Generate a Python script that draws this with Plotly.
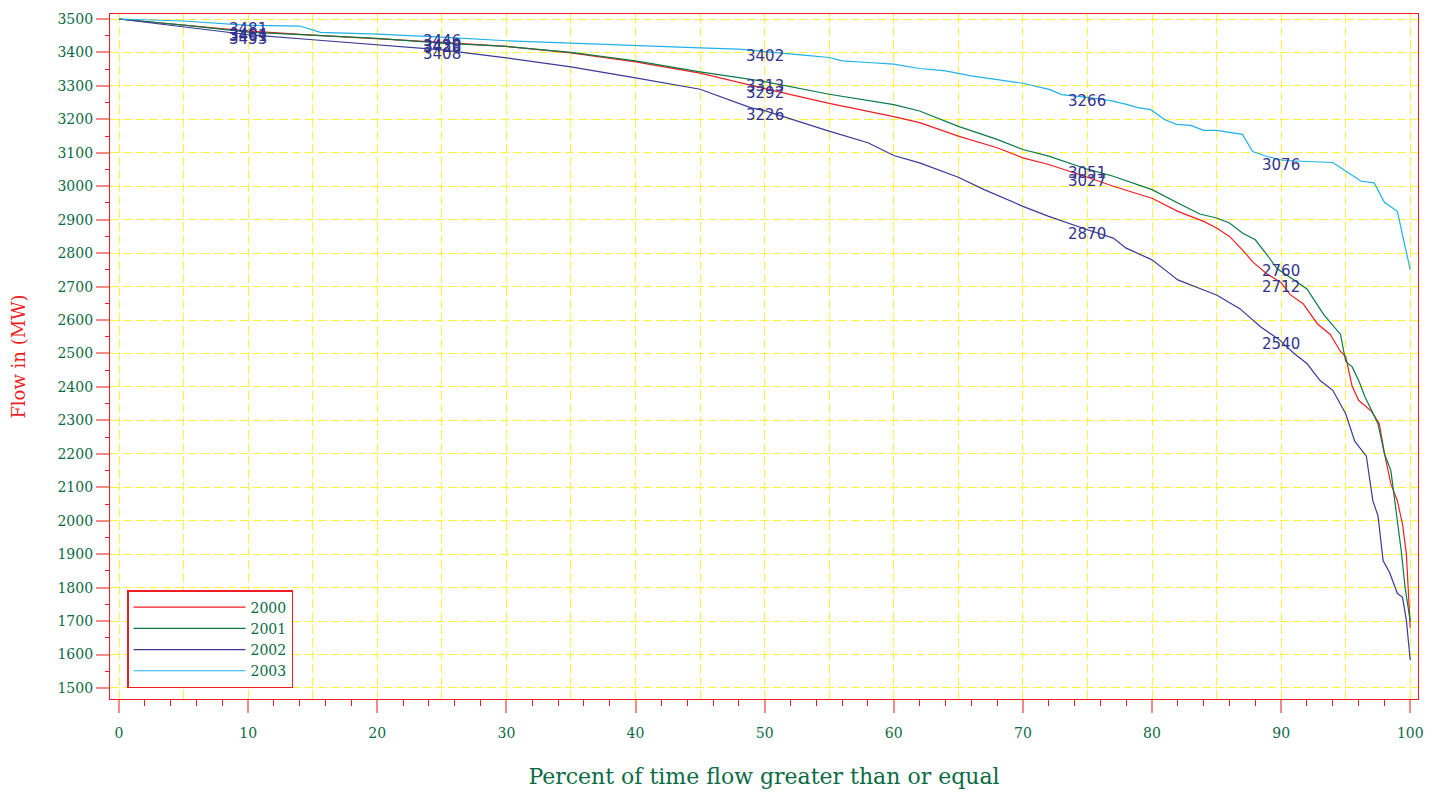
import plotly.graph_objects as go

# ---------------- data ----------------
x_2000 = [0, 5, 10, 15, 20, 25, 30, 35, 40, 45, 50, 55, 60, 62, 65, 68, 70, 72, 75, 77, 80, 82, 84, 85, 86, 87,
          87.8, 88.9, 90, 90.7, 91.7, 92.8, 93.8, 94.6, 95, 95.5, 96, 97, 97.6, 98, 98.5, 99, 99.4, 99.7, 100]
y_2000 = [3500, 3482, 3464, 3452, 3442, 3430, 3418, 3399, 3372, 3338, 3292, 3248, 3208, 3190, 3150, 3115, 3085,
          3065, 3027, 3000, 2964, 2925, 2895, 2875, 2850, 2810, 2774, 2738, 2712, 2676, 2649, 2589, 2557, 2506,
          2491, 2402, 2360, 2327, 2290, 2202, 2110, 2060, 1990, 1900, 1680]

x_2001 = [0, 5, 10, 15, 20, 25, 30, 35, 40, 45, 50, 55, 60, 62, 65, 68, 70, 72, 75, 77, 80, 82, 83.7, 85, 86, 87,
          88, 89, 89.7, 91, 92, 93.3, 94.6, 95, 95.5, 96, 96.5, 97, 97.5, 98, 98.5, 99, 99.3, 99.6, 100]
y_2001 = [3500, 3482, 3461, 3452, 3442, 3428, 3418, 3400, 3375, 3342, 3313, 3275, 3244, 3225, 3179, 3140, 3110,
          3090, 3051, 3030, 2990, 2950, 2917, 2905, 2890, 2860, 2840, 2790, 2753, 2720, 2693, 2616, 2557, 2476,
          2460, 2420, 2370, 2330, 2290, 2200, 2150, 2000, 1911, 1800, 1700]

x_2002 = [0, 5, 10, 15, 20, 25, 30, 35, 40, 45, 48.9, 50, 54.8, 58, 60, 62, 65, 67, 70, 72, 75, 77, 78, 80, 81, 82,
          84, 85, 86.8, 88.4, 89.9, 91, 92, 93, 94, 95, 95.7, 96.6, 97.1, 97.5, 97.9, 98.4, 99, 99.4, 99.7, 100]
y_2002 = [3500, 3476, 3453, 3438, 3422, 3408, 3384, 3357, 3324, 3290, 3235, 3226, 3167, 3130, 3092, 3070, 3027,
          2990, 2940, 2910, 2870, 2845, 2815, 2780, 2750, 2720, 2690, 2675, 2634, 2580, 2540, 2500, 2470, 2420,
          2390, 2320, 2238, 2193, 2060, 2015, 1880, 1845, 1783, 1771, 1702, 1583]

x_2003 = [0, 5, 10, 14, 15.6, 20, 25, 30, 35, 40, 45, 48, 50, 53, 55, 56, 58, 60, 62, 64, 66, 68, 70, 72.1, 73,
          75, 76.8, 78.1, 78.9, 79.9, 81, 81.9, 83, 84, 85, 87, 87.8, 88.9, 90.2, 94, 95.4, 96.2, 97.2, 98, 99, 100]
y_2003 = [3500, 3494, 3481, 3479, 3460, 3455, 3446, 3435, 3428, 3420, 3414, 3410, 3402, 3392, 3385, 3375, 3370,
          3365, 3352, 3345, 3330, 3320, 3308, 3289, 3274, 3266, 3256, 3244, 3235, 3229, 3199, 3185, 3182, 3167,
          3167, 3155, 3104, 3089, 3077, 3071, 3036, 3015, 3010, 2952, 2925, 2750]

label_x = [10, 25, 50, 75, 90]
labels_2000 = [3464, 3430, 3292, 3027, 2712]
labels_2001 = [3461, 3428, 3313, 3051, 2760]
labels_2002 = [3453, 3408, 3226, 2870, 2540]
labels_2003 = [3481, 3446, 3402, 3266, 3076]

x_ticks = list(range(0, 101, 10))
y_ticks = list(range(1500, 3501, 100))

# ---------------- styling ----------------
RED = "#f01e23"
GREEN = "#0a7a45"
BLUE = "#3a3a98"
CYAN = "#1fb2ea"
TICKGREEN = "#0b6b45"
LABELBLUE = "#33338f"
GRID = "#fff23c"
PINK = "#f28a8a"
SERIF = "DejaVu Serif"

series = [
    ("2000", x_2000, y_2000, RED, labels_2000),
    ("2001", x_2001, y_2001, GREEN, labels_2001),
    ("2002", x_2002, y_2002, BLUE, labels_2002),
    ("2003", x_2003, y_2003, CYAN, labels_2003),
]

fig = go.Figure()
for name, xs, ys, col, _ in series:
    fig.add_trace(go.Scatter(x=xs, y=ys, mode="lines", name=name,
                             line=dict(color=col, width=1.2)))

annotations = []
for name, xs, ys, col, labs in series:
    for lx, lv in zip(label_x, labs):
        annotations.append(dict(x=lx, y=lv, xref="x", yref="y", text=str(lv), showarrow=False,
                                xanchor="center", yanchor="middle", yshift=-4,
                                font=dict(family="DejaVu Sans", size=15, color=LABELBLUE)))

xr = [-0.7, 100.6]
yr = [1467, 3515]

fig.update_layout(
    width=1433, height=788, autosize=False,
    margin=dict(l=102, r=23, t=3, b=97),
    paper_bgcolor="white", plot_bgcolor="white",
    showlegend=True,
    legend=dict(x=0.013, y=0.016, xanchor="left", yanchor="bottom",
                bgcolor="white", bordercolor=RED, borderwidth=1.5,
                font=dict(family=SERIF, size=14, color=TICKGREEN),
                itemwidth=112, tracegroupgap=0),
    annotations=annotations,
    xaxis=dict(range=xr, dtick=5, tick0=0, showgrid=True, gridcolor=GRID, gridwidth=1.3, griddash="9px,4px",
               showticklabels=False, ticks="", zeroline=False,
               showline=True, linecolor=RED, linewidth=1.3, mirror=True),
    xaxis2=dict(range=xr, overlaying="x", side="bottom", anchor="y",
                tickmode="array", tickvals=x_ticks, ticktext=[str(v) for v in x_ticks],
                ticks="outside", ticklen=13, tickcolor=PINK, tickwidth=1.5, ticklabelstandoff=8,
                ticklabeloverflow="allow",
                minor=dict(dtick=2, tick0=0, ticks="outside", ticklen=6, tickcolor=RED, tickwidth=1.2,
                           showgrid=False),
                showgrid=False, zeroline=False, showline=False,
                tickfont=dict(family=SERIF, size=14, color=TICKGREEN),
                title=dict(text="Percent of time flow greater than or equal", standoff=28,
                           font=dict(family=SERIF, size=22, color=TICKGREEN))),
    yaxis=dict(range=yr, tickmode="array", tickvals=y_ticks, ticktext=[str(v) for v in y_ticks],
               showgrid=True, gridcolor=GRID, gridwidth=1.3, griddash="9px,4px",
               ticks="outside", ticklen=13, tickcolor=PINK, tickwidth=1.5, ticklabeloverflow="allow",
               minor=dict(dtick=50, tick0=1500, ticks="outside", ticklen=4, tickcolor=RED, tickwidth=1.2,
                          showgrid=False),
               zeroline=False, showline=True, linecolor=RED, linewidth=1.3, mirror=True,
               tickfont=dict(family=SERIF, size=14, color=TICKGREEN),
               title=dict(text="Flow in (MW)", standoff=30,
                          font=dict(family=SERIF, size=18, color=RED))),
    shapes=[dict(type="line", xref="paper", yref="paper", xsizemode="pixel", xanchor=1,
                 x0=16, x1=16, y0=-0.15, y1=1.02,
                 line=dict(color="#5a2b2b", width=2))],
)

# empty trace on xaxis2 so the overlay axis is rendered
fig.add_trace(go.Scatter(x=[None], y=[None], xaxis="x2", yaxis="y", showlegend=False, hoverinfo="skip"))

fig.write_html("out.html")
